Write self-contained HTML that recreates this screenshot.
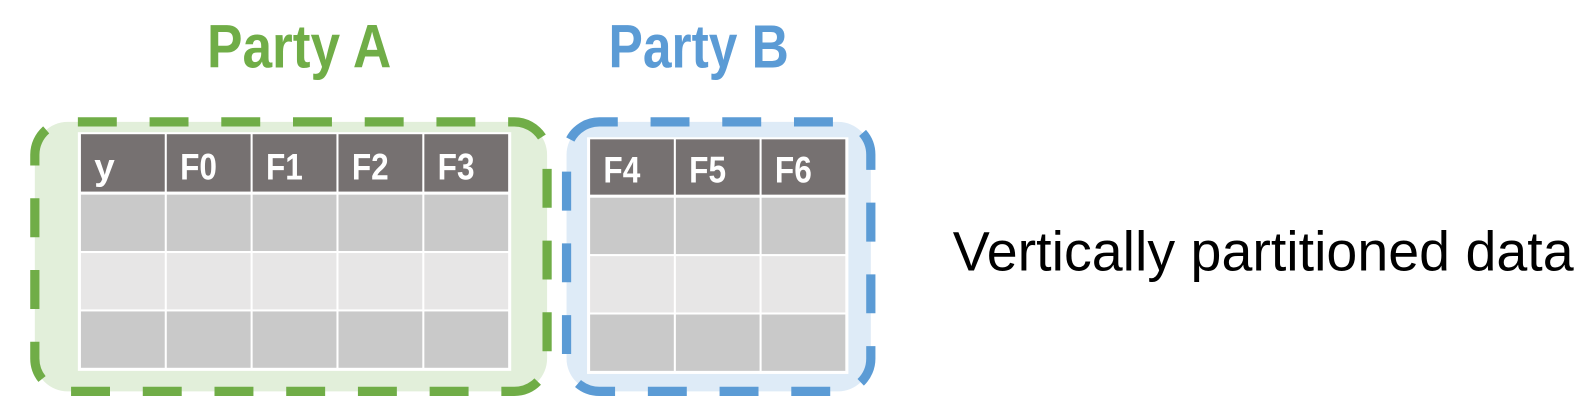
<!DOCTYPE html>
<html><head><meta charset="utf-8"><style>
html,body{margin:0;padding:0;background:#fff;}
svg{display:block;}
</style></head><body>
<svg width="1594" height="406" viewBox="0 0 1594 406" font-family="'Liberation Sans', 'Noto Sans CJK SC', sans-serif">
 <g transform="scale(1.0245)">
  <text x="202" y="66" font-size="60" font-weight="bold" fill="#70ad47" textLength="180" lengthAdjust="spacingAndGlyphs">Party A</text>
  <text x="594" y="66" font-size="60" font-weight="bold" fill="#5b9bd5" textLength="176" lengthAdjust="spacingAndGlyphs">Party B</text>

  <g>
    <rect x="34" y="119" width="500" height="263" rx="32" fill="#e2efda" stroke="#70ad47" stroke-width="9" stroke-dasharray="38,32" stroke-dashoffset="-10"/>
  </g>
  <g>
    <rect x="553" y="119" width="297" height="263" rx="32" fill="#deebf7" stroke="#5b9bd5" stroke-width="9" stroke-dasharray="38,32" stroke-dashoffset="20"/>
  </g>

  <g id="tA"></g>
  <g id="tB"></g>

  <text x="930" y="264" font-size="54" fill="#000" textLength="606" lengthAdjust="spacingAndGlyphs">Vertically partitioned data</text>
 </g>
</svg>
<script>
const headersA = ["y","F0","F1","F2","F3"];
const headersB = ["F4","F5","F6"];
const rowFills = ["#c9c9c9","#e7e6e6","#c9c9c9"];
const NS = "http://www.w3.org/2000/svg";
function table(g, headers, x0, y0, cw, hh, rh){
  const w = cw*headers.length;
  const bg = document.createElementNS(NS,"rect");
  bg.setAttribute("x",x0-2);bg.setAttribute("y",y0-2);bg.setAttribute("width",w+4);bg.setAttribute("height",hh+rh*3+4);bg.setAttribute("fill","#fff");
  
  
  g.appendChild(bg);
  headers.forEach((h,i)=>{
    const r = document.createElementNS(NS,"rect");
    r.setAttribute("x",x0+i*cw+1);r.setAttribute("y",y0);r.setAttribute("width",cw-2);r.setAttribute("height",hh-2);r.setAttribute("fill","#767171");
    
    
    g.appendChild(r);
    const t = document.createElementNS(NS,"text");
    t.setAttribute("x",x0+i*cw+14);t.setAttribute("y",y0+hh-14);t.setAttribute("font-size","36");t.setAttribute("font-weight","bold");t.setAttribute("fill","#fff");
    t.textContent = h;
    if(h.length>1){t.setAttribute("textLength","36");t.setAttribute("lengthAdjust","spacingAndGlyphs");}
    
    
    g.appendChild(t);
    rowFills.forEach((f,j)=>{
      const c = document.createElementNS(NS,"rect");
      c.setAttribute("x",x0+i*cw+1);c.setAttribute("y",y0+hh+j*rh+1);c.setAttribute("width",cw-2);c.setAttribute("height",rh-2);c.setAttribute("fill",f);
      
      
      g.appendChild(c);
    });
  });
}
table(document.getElementById("tA"), headersA, 78, 131, 83.8, 58, 57);
table(document.getElementById("tB"), headersB, 575, 136, 83.7, 56, 57);
</script>
</body></html>
